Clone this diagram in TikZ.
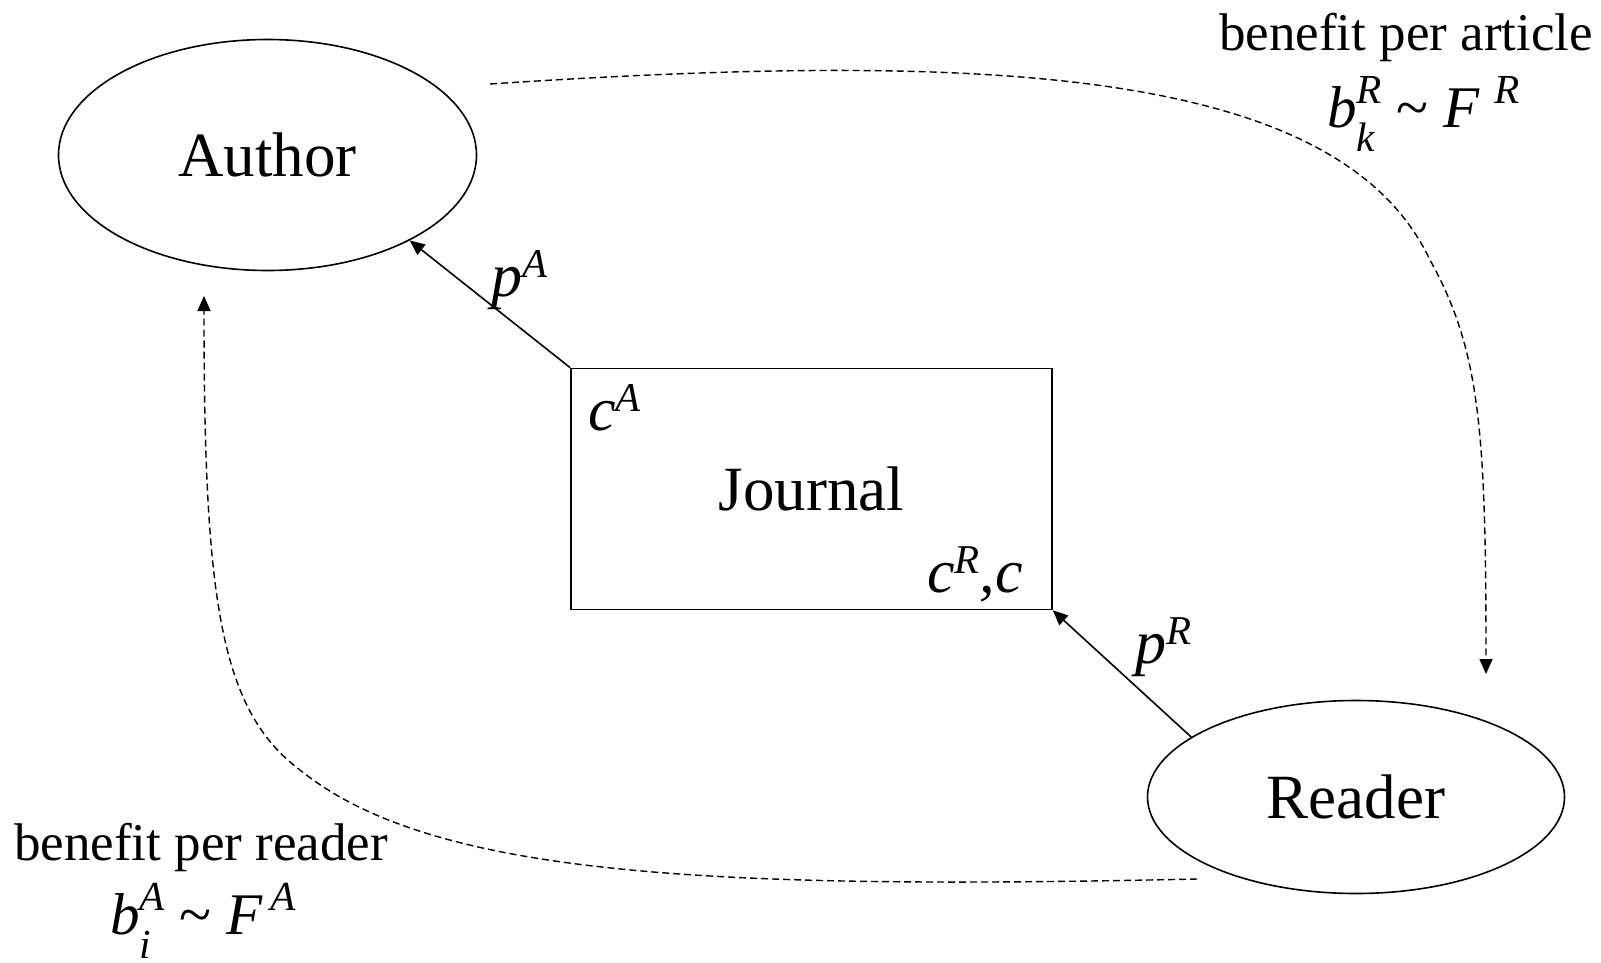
\documentclass[tikz,border=0pt]{standalone}
\usepackage{fontspec}
\setmainfont{Liberation Serif}
\usetikzlibrary{arrows.meta,positioning,shapes.geometric}

% italic symbols with raised / lowered indices
\newcommand{\pup}[1]{\raisebox{0.3em}{\scalebox{0.66}{\textit{#1}}}}
\newcommand{\bup}[1]{\raisebox{0.4em}{\scalebox{0.7}{\textit{#1}}}}
\newcommand{\bdown}[1]{\raisebox{-0.42em}{\scalebox{0.7}{\textit{#1}}}}

\begin{document}
\begin{tikzpicture}[
    x=1pt,
    y=-1pt,
    party/.style={draw, ellipse, line width=1.6pt, inner sep=0pt, font=\fontsize{63}{70}\selectfont},
    journalbox/.style={draw, rectangle, line width=1.6pt, minimum width=481pt, minimum height=241pt, font=\fontsize{63}{70}\selectfont},
    corner/.style={inner sep=0pt, anchor=base west, font=\fontsize{62}{68}\selectfont},
    price/.style={-{Triangle[length=15pt,width=13pt]}, line width=1.6pt},
    benefit/.style={-{Triangle[length=15pt,width=13pt]}, dash pattern=on 7pt off 4pt, line width=1.4pt},
    lbl/.style={inner sep=0pt, anchor=base, font=\fontsize{53}{60}\selectfont},
    law/.style={inner sep=0pt, anchor=base west, font=\fontsize{59}{65}\selectfont}
]
\useasboundingbox (0,0) rectangle (1601,962);

\node[party, minimum width=418pt, minimum height=231pt] (author) at (267.5,155) {Author};
\node[party, minimum width=417pt, minimum height=193pt] (reader) at (1356,797) {Reader};
\node[journalbox] (journal) at (811.5,489) {Journal};
\node[corner] (costa) at (588,430) {\textit{c}\pup{A}};
\node[corner] (costr) at (927,592) {\textit{c}\pup{R}\textit{,c}};

% prices paid to the journal
\draw[price] (journal.north west) -- (author.-31);
\draw[price] (reader.160) -- (journal.south east);
\node[corner] (pa) at (491,296) {\textit{p}\pup{A}};
\node[corner] (pr) at (1135,663) {\textit{p}\pup{R}};

% cross benefits
\coordinate (artstart) at (490,84);
\coordinate (artend) at (1486,674);
\coordinate (rdstart) at (1197,879);
\coordinate (rdend) at (204,296);
\draw[benefit] (artstart) .. controls (1000,50) and (1340,70) .. (1430,260)
    .. controls (1480,350) and (1486,430) .. (artend);
\draw[benefit] (rdstart) .. controls (700,890) and (430,875) .. (300,770)
    .. controls (220,710) and (204,600) .. (rdend);

\node[lbl] (arttext) at (1406,50) {benefit per article};
\node[law] (artlaw) at (1327,127) {\textit{b}\rlap{\bdown{k}}\bup{R} \textasciitilde{} \textit{F}\hspace{0.25em}\bup{R}};
\node[lbl] (rdtext) at (201,860) {benefit per reader};
\node[law] (rdlaw) at (110,934) {\textit{b}\rlap{\bdown{i}}\bup{A} \textasciitilde{} \textit{F}\hspace{0.12em}\bup{A}};
\end{tikzpicture}
\end{document}
